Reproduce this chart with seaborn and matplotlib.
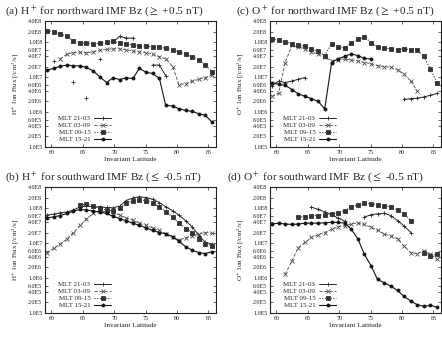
import numpy as np
import seaborn as sns
import matplotlib.pyplot as plt
from matplotlib.ticker import FixedLocator, NullLocator

sns.set_theme(style="ticks")
plt.rcParams["font.family"] = ["Liberation Serif", "DejaVu Serif"]
plt.rcParams["mathtext.fontset"] = "stix"

N = np.nan

# invariant latitude of the bins
LAT = [59.3, 60.4, 61.4, 62.5, 63.5, 64.6, 65.6, 66.7, 67.7, 68.8, 69.8, 70.9, 71.9,
       73.0, 74.0, 75.1, 76.1, 77.2, 78.2, 79.3, 80.3, 81.4, 82.4, 83.5, 84.5, 85.6]

MLT = ["MLT 21-03", "MLT 03-09", "MLT 09-15", "MLT 15-21"]

# (a) H+ northward
a_2103 = [N, 2.9e7, N, N, 7.0e6, N, 2.6e6, N, 3.2e7, N, 1.0e8, 1.45e8, 1.3e8,
          1.3e8, N, N, 2.2e7, 2.2e7, 1.09e7, N, N, N, N, N, N, N]
a_0309 = [N, N, 3.3e7, 4.5e7, 5.0e7, 5.1e7, 4.9e7, 5.3e7, 5.8e7, 6.2e7, 6.4e7, 6.4e7, 6.0e7,
          5.6e7, 5.3e7, 5.0e7, 4.5e7, 3.8e7, 3.3e7, 2.0e7, 6.1e6, 6.5e6, 7.6e6, 8.7e6, 9.7e6, 1.14e7]
a_0915 = [2.1e8, 2.0e8, 1.7e8, 1.45e8, 1.08e8, 9.3e7, 9.3e7, 8.7e7, 9.3e7, 9.9e7, 1.04e8, 9.5e7, 8.7e7,
          8.3e7, 7.9e7, 7.6e7, 7.3e7, 7.0e7, 6.7e7, 6.0e7, 5.3e7, 4.5e7, 3.8e7, 3.1e7, 2.2e7, 1.4e7]
a_1521 = [1.58e7, 1.77e7, 2.02e7, 2.2e7, 2.11e7, 2.06e7, 1.89e7, 1.48e7, 1.02e7, 6.98e6, 9.5e6, 8.5e6, 9.5e6,
          9.1e6, 1.77e7, 1.36e7, 1.27e7, 9.1e6, 1.55e6, 1.48e6, 1.24e6, 1.11e6, 1.04e6, 8.9e5, 8.0e5, 5.1e5]

# (b) H+ southward
b_2103 = [6.3e7, 6.7e7, 7.3e7, 7.7e7, 8.8e7, 1.09e8, 1.14e8, 1.09e8, 1.07e8, 1.04e8, 1.02e8, 1.14e8, 1.64e8,
          1.95e8, 2.1e8, 2.0e8, 1.79e8, 1.43e8, 1.09e8, 8.4e7, 6.3e7, 4.3e7, 2.9e7, 1.64e7, 1.05e7, 9.4e6]
b_0309 = [5.3e6, 7.1e6, 9.4e6, 1.31e7, 2.0e7, 3.2e7, 5.0e7, 7.0e7, 8.2e7, 7.8e7, 7.3e7, 6.3e7, 5.2e7,
          4.5e7, 3.7e7, 3.2e7, 2.7e7, 2.3e7, 1.83e7, 1.46e7, 1.22e7, 1.40e7, 1.64e7, 1.83e7, 2.0e7, 1.91e7]
b_0915 = [N, N, N, N, N, 1.22e8, 1.31e8, 1.14e8, 9.8e7, 8.8e7, 8.4e7, 9.8e7, 1.37e8,
          1.64e8, 1.71e8, 1.64e8, 1.37e8, 1.09e8, 7.8e7, 5.6e7, 3.7e7, 2.6e7, 2.0e7, 1.31e7, 9.4e6, 8.4e6]
b_1521 = [5.2e7, 5.6e7, 6.1e7, 7.0e7, 8.2e7, 9.1e7, 8.8e7, 8.2e7, 7.7e7, 7.0e7, 5.8e7, 5.0e7, 4.3e7,
          3.7e7, 3.2e7, 2.7e7, 2.3e7, 2.0e7, 1.83e7, 1.53e7, 1.12e7, 7.8e6, 6.3e6, 5.3e6, 5.0e6, 5.7e6]

# (c) O+ northward
c_2103 = [5.5e6, 7.7e6, 6.9e6, 7.7e6, 8.6e6, 9.7e6, N, N, N, N, N, N, N,
          N, N, N, N, N, N, N, 2.3e6, 2.4e6, 2.5e6, 2.7e6, 3.0e6, 3.4e6]
c_0309 = [2.8e6, 3.5e6, 2.6e7, 8.0e7, 7.2e7, 6.4e7, 5.1e7, 4.6e7, 3.7e7, 2.9e7, 3.1e7, 3.3e7, 3.1e7,
          2.9e7, 2.6e7, 2.4e7, 2.1e7, 2.0e7, 1.89e7, 1.61e7, 1.21e7, 7.7e6, 4.0e6, N, N, N]
c_0915 = [1.25e8, 1.12e8, 1.0e8, 9.0e7, 8.4e7, 7.5e7, 6.4e7, 5.4e7, 4.1e7, 9.0e7, 7.2e7, 6.7e7, 9.6e7,
          1.2e8, 1.4e8, 9.6e7, 7.2e7, 6.7e7, 6.4e7, 6.1e7, 6.4e7, 6.1e7, 5.8e7, 3.9e7, 1.69e7, 6.9e6]
c_1521 = [6.9e6, 6.2e6, 5.8e6, 4.4e6, 3.3e6, 2.8e6, 2.4e6, 2.0e6, 1.22e6, 2.6e7, 3.3e7, 3.9e7, 4.6e7,
          4.1e7, 3.4e7, 3.3e7, N, N, N, N, N, N, N, N, N, N]

# (d) O+ southward
d_2103 = [N, N, N, N, N, N, 1.06e8, 9.1e7, 7.8e7, 6.5e7, 5.2e7, 4.2e7, N,
          N, 5.5e7, 6.5e7, 6.8e7, 7.1e7, 6.1e7, 4.4e7, 3.1e7, 2.0e7, N, N, N, N]
d_0309 = [N, N, 1.27e6, 3.1e6, 7.4e6, 1.04e7, 1.45e7, 1.73e7, 2.0e7, 2.5e7, 2.9e7, 3.1e7, 3.5e7,
          3.7e7, 3.4e7, 2.8e7, 2.3e7, 1.81e7, 1.62e7, 1.30e7, 8.3e6, 5.3e6, 5.0e6, 6.0e6, 4.8e6, 3.4e6]
d_0915 = [N, N, N, N, 5.5e7, 5.7e7, 6.0e7, 6.1e7, 6.5e7, 6.8e7, 7.3e7, 8.5e7, 1.06e8,
          1.26e8, 1.38e8, 1.32e8, 1.26e8, 1.18e8, 1.06e8, 8.9e7, 6.8e7, 4.4e7, N, 5.3e6, 4.3e6, 4.8e6]
d_1521 = [3.5e7, 3.7e7, 3.5e7, 3.4e7, 3.5e7, 3.7e7, 3.7e7, 3.7e7, 3.8e7, 3.9e7, 3.9e7, 3.7e7, 2.5e7,
          1.30e7, 4.8e6, 2.2e6, 9.1e5, 7.3e5, 5.9e5, 4.4e5, 3.0e5, 2.2e5, 1.73e5, 1.55e5, 1.66e5, 1.46e5]

YTICKS = [1e5, 2e5, 4e5, 6e5, 1e6, 2e6, 4e6, 6e6, 1e7, 2e7, 4e7, 6e7, 1e8, 2e8, 4e8]
YLABELS = ["1.0E5", "2.0E5", "4.0E5", "6.0E5", "1.0E6", "2.0E6", "4.0E6", "6.0E6",
           "1.0E7", "2.0E7", "4.0E7", "6.0E7", "1.0E8", "2.0E8", "4.0E8"]
XTICKS = [60, 65, 70, 75, 80, 85]

STYLE = {
    "MLT 21-03": dict(color="#262626", linestyle="-", lw=0.7, marker="+", ms=3.5),
    "MLT 03-09": dict(color="#4a4a4a", linestyle=(0, (4, 2)), lw=0.6, marker="x", ms=2.5),
    "MLT 09-15": dict(color="#333333", linestyle=(0, (1, 1.5)), lw=0.8, marker="s", ms=2.2),
    "MLT 15-21": dict(color="#141414", linestyle="-", lw=0.8, marker="o", ms=2.2),
}

panels = [
    ("(a) H$^+$ for northward IMF Bz ($\\geq$ +0.5 nT)", "H$^+$ Ion Flux [/cm$^2$/s]",
     [a_2103, a_0309, a_0915, a_1521], [45, 147], -0.235),
    ("(c) O$^+$ for northward IMF Bz ($\\geq$ +0.5 nT)", "O$^+$ Ion Flux [/cm$^2$/s]",
     [c_2103, c_0309, c_0915, c_1521], [270, 147], -0.2),
    ("(b) H$^+$ for southward IMF Bz ($\\leq$ -0.5 nT)", "H$^+$ Ion Flux [/cm$^2$/s]",
     [b_2103, b_0309, b_0915, b_1521], [45, 313], -0.235),
    ("(d) O$^+$ for southward IMF Bz ($\\leq$ -0.5 nT)", "O$^+$ Ion Flux [/cm$^2$/s]",
     [d_2103, d_0309, d_0915, d_1521], [270, 313], -0.25),
]


def draw(ax, vals, name):
    x = np.array(LAT)
    y = np.array(vals, dtype=float)
    idx = np.flatnonzero(~np.isnan(y))
    groups = np.split(idx, np.where(np.diff(idx) > 1)[0] + 1)
    st = STYLE[name]
    for k, g in enumerate(groups):
        sns.lineplot(x=x[g], y=y[g], ax=ax, estimator=None, sort=False,
                     label=name if k == 0 else None,
                     markeredgecolor=st["color"], markerfacecolor=st["color"],
                     markeredgewidth=0.6, **st)


W, H = 442, 337
fig = plt.figure(figsize=(W / 100, H / 100), dpi=100)

for title, ylab, series, (left, bottom), tx in panels:
    ax = fig.add_axes([left / W, (H - bottom) / H, 171 / W, 126 / H])
    for vals, name in zip(series, MLT):
        draw(ax, vals, name)
    ax.set_yscale("log")
    ax.set_ylim(1e5, 4e8)
    ax.set_xlim(59.0, 86.2)
    ax.yaxis.set_major_locator(FixedLocator(YTICKS))
    ax.yaxis.set_minor_locator(NullLocator())
    ax.set_yticklabels(YLABELS)
    ax.set_xticks(XTICKS)
    ax.set_xticklabels([str(t) for t in XTICKS])
    ax.tick_params(direction="in", top=True, right=True, length=2.5, width=0.5,
                   labelsize=4.3, pad=2, colors="#222222")
    for sp in ax.spines.values():
        sp.set_linewidth(0.8)
        sp.set_color("#222222")
    ax.set_xlabel("Invariant Latitude", fontsize=5.2, labelpad=1.5, color="#222222")
    ax.set_ylabel(ylab, fontsize=5, labelpad=5, color="#222222")
    ax.set_title(title, fontsize=8.2, x=tx, ha="left", pad=5, color="#222222")
    ax.legend(loc="lower left", bbox_to_anchor=(0.05, 0.0), frameon=False,
              markerfirst=False, fontsize=5, handlelength=2.4, labelspacing=0.15,
              borderaxespad=0.3, handletextpad=0.6)

fig.savefig("out.png", dpi=100)
